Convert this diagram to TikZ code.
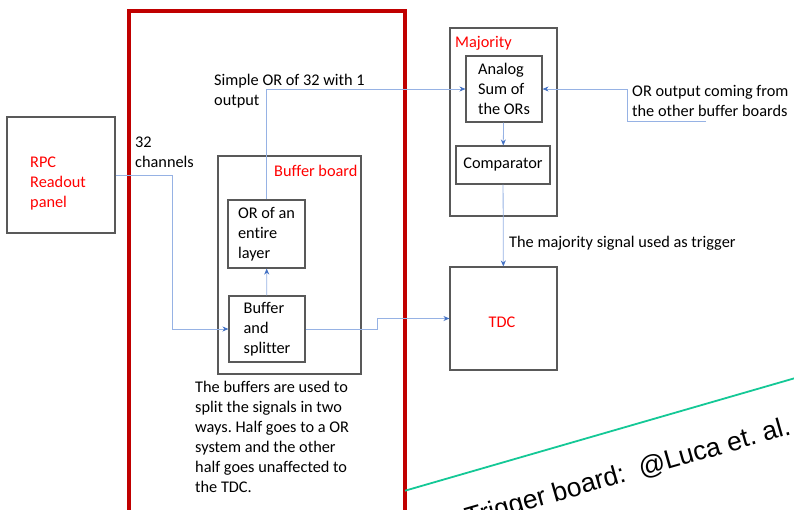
\documentclass[tikz,border=0pt]{standalone}
\usepackage{fontspec}
\setmainfont[Ligatures=NoCommon]{Carlito}
\newfontfamily\arialfont{Liberation Sans}
\usetikzlibrary{arrows.meta}
\definecolor{boxgray}{RGB}{89,89,89}
\definecolor{wireblue}{RGB}{150,178,228}
\definecolor{tipblue}{RGB}{68,114,196}
\definecolor{framered}{RGB}{192,0,0}
\definecolor{linegreen}{RGB}{20,200,150}
\frenchspacing

\begin{document}
\begin{tikzpicture}[x=1pt,y=-1pt,
    font=\fontsize{16.3}{20}\selectfont,
    blk/.style={draw=boxgray,line width=1.1pt,align=left,inner sep=0pt},
    txt/.style={align=left,inner sep=0pt,anchor=west},
    redtxt/.style={txt,text=red},
    wire/.style={draw=wireblue,line width=0.8pt,-{Stealth[length=6pt,width=5pt,color=tipblue]}}]
  \useasboundingbox (0,0) rectangle (794,509);
  \draw[framered,line width=4pt] (129,560) -- (129,11) -- (405,11) -- (405,560);
  \draw[linegreen,line width=1.8pt] (405,490.7) -- (830,368);
  \node[blk,minimum width=108,minimum height=116] (rpc) at (61,175) {};
  \node[redtxt] (rpclbl) at (30,184) {RPC\\Readout\\panel};
  \node[txt] (chlbl) at (135,152) {32\\channels};
  \node[blk,minimum width=143,minimum height=218] (bb) at (289.5,265) {};
  \node[redtxt] (bblbl) at (274,171) {Buffer board};
  \node[blk,minimum width=77,minimum height=68] (orl) at (266.5,234) {OR of an\\entire\\layer};
  \node[blk,minimum width=76,minimum height=66] (bsp) at (267,329) {Buffer\\and\\splitter};
  \node[txt] (orlbl) at (214,91.5) {Simple OR of 32 with 1\\output};
  \node[blk,minimum width=107,minimum height=188] (maj) at (503.5,122) {};
  \node[redtxt] (majlbl) at (455,43) {Majority};
  \node[blk,minimum width=76,minimum height=66] (asum) at (504,89) {Analog\\Sum of\\the ORs};
  \node[blk,minimum width=94,minimum height=38] (cmp) at (503,165) {Comparator};
  \node[blk,minimum width=107,minimum height=103] (tdc) at (503.5,318.5) {};
  \node[redtxt,anchor=center] (tdclbl) at (502,322) {TDC};
  \node[txt] (extlbl) at (632,100.5) {OR output coming from\\the other buffer boards};
  \node[txt] (triglbl) at (509,243) {The majority signal used as trigger};
  \node[txt] (buflbl) at (195,437) {The buffers are used to\\split the signals in two\\ways. Half goes to a OR\\system and the other\\half goes unaffected to\\the TDC.};
  \node[anchor=base west,inner sep=0pt,rotate=16,font=\arialfont\fontsize{26.5}{30}\selectfont] (auth) at (468,527) {Trigger board:~~@Luca et. al.};
  \coordinate (ext) at (706,121);
  \draw[wire] (rpc.east) -- ++(57,0) |- (bsp.west);
  \draw[wire] (bsp) -- (orl);
  \draw[wire] (orl.north) |- (asum.west);
  \draw[wire] (ext) -- ++(-79,0) |- (asum.east);
  \draw[wire] (asum) -- (cmp);
  \draw[wire] (cmp) -- (tdc);
  \draw[wire] (bsp.east) -- ++(72,0) |- (tdc.west);
\end{tikzpicture}
\end{document}
